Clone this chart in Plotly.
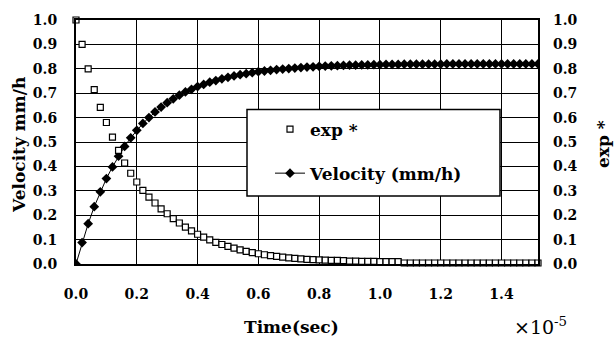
import plotly.graph_objects as go

# Time axis in units of 1e-5 sec
time_1e5 = [0.00, 0.02, 0.04, 0.06, 0.08, 0.10, 0.12, 0.14, 0.16, 0.18,
            0.20, 0.22, 0.24, 0.26, 0.28, 0.30, 0.32, 0.34, 0.36, 0.38,
            0.40, 0.42, 0.44, 0.46, 0.48, 0.50, 0.52, 0.54, 0.56, 0.58,
            0.60, 0.62, 0.64, 0.66, 0.68, 0.70, 0.72, 0.74, 0.76, 0.78,
            0.80, 0.82, 0.84, 0.86, 0.88, 0.90, 0.92, 0.94, 0.96, 0.98,
            1.00, 1.02, 1.04, 1.06, 1.08, 1.10, 1.12, 1.14, 1.16, 1.18,
            1.20, 1.22, 1.24, 1.26, 1.28, 1.30, 1.32, 1.34, 1.36, 1.38,
            1.40, 1.42, 1.44, 1.46, 1.48, 1.50, 1.52]

exp_star = [1.000, 0.900, 0.800, 0.715, 0.642, 0.580, 0.520, 0.466, 0.414, 0.372,
            0.336, 0.302, 0.274, 0.250, 0.226, 0.206, 0.186, 0.168, 0.151, 0.136,
            0.122, 0.110, 0.099, 0.089, 0.080, 0.072, 0.065, 0.058, 0.052, 0.047,
            0.042, 0.038, 0.034, 0.031, 0.028, 0.025, 0.023, 0.021, 0.019, 0.018,
            0.017, 0.016, 0.015, 0.015, 0.014, 0.012, 0.012, 0.011, 0.011, 0.011,
            0.010, 0.010, 0.010, 0.010, 0.004, 0.004, 0.004, 0.004, 0.004, 0.004,
            0.004, 0.004, 0.004, 0.004, 0.004, 0.004, 0.004, 0.004, 0.004, 0.004,
            0.004, 0.004, 0.004, 0.004, 0.004, 0.004, 0.004]

velocity = [0.000, 0.088, 0.165, 0.235, 0.296, 0.350, 0.398, 0.442, 0.482, 0.517,
            0.548, 0.576, 0.600, 0.623, 0.643, 0.661, 0.677, 0.692, 0.705, 0.716,
            0.727, 0.736, 0.745, 0.752, 0.759, 0.765, 0.771, 0.776, 0.780, 0.784,
            0.788, 0.791, 0.794, 0.797, 0.799, 0.801, 0.803, 0.805, 0.807, 0.808,
            0.810, 0.811, 0.812, 0.813, 0.814, 0.815, 0.815, 0.816, 0.816, 0.817,
            0.817, 0.818, 0.818, 0.818, 0.819, 0.819, 0.819, 0.819, 0.819, 0.819,
            0.819, 0.820, 0.820, 0.820, 0.820, 0.820, 0.820, 0.820, 0.820, 0.820,
            0.820, 0.820, 0.820, 0.820, 0.820, 0.820, 0.820]

x_ticks = [0.0, 0.2, 0.4, 0.6, 0.8, 1.0, 1.2, 1.4]
y_ticks = [0.0, 0.1, 0.2, 0.3, 0.4, 0.5, 0.6, 0.7, 0.8, 0.9, 1.0]

W, H = 616, 340
L, R, T, B = 76, 78, 16, 76
PW, PH = W - L - R, H - T - B


def px(x):
    return (x - L) / PW


def py(y):
    return (H - B - y) / PH


FONT = "DejaVu Serif"
tickfont = dict(family=FONT, size=14, color="black", weight="bold")
titlefont = dict(family=FONT, size=17, color="black", weight="bold")

fig = go.Figure()
fig.add_trace(go.Scatter(
    x=time_1e5, y=exp_star, name="exp *", mode="markers", yaxis="y2",
    legendgroup="exp", cliponaxis=False,
    marker=dict(symbol="square", size=6, color="white",
                line=dict(color="black", width=1.2)),
))
fig.add_trace(go.Scatter(
    x=time_1e5, y=velocity, name="Velocity (mm/h)", mode="lines+markers",
    legendgroup="vel",
    line=dict(color="black", width=1),
    marker=dict(symbol="diamond", size=7.5, color="black"),
))

axis_common = dict(
    showgrid=True, gridcolor="black", gridwidth=1.2,
    showline=True, linecolor="black", linewidth=2, mirror=True,
    ticks="", zeroline=False, tickfont=tickfont, tickformat=".1f",
)

fig.update_layout(
    width=W, height=H, autosize=False,
    margin=dict(l=L, r=R, t=T, b=B, pad=0),
    paper_bgcolor="white", plot_bgcolor="white",
    xaxis=dict(range=[0, 1.52], tickvals=x_ticks, ticklabelstandoff=16, **axis_common),
    yaxis=dict(range=[0, 1.0], tickvals=y_ticks, ticklabelstandoff=14, **axis_common),
    yaxis2=dict(range=[0, 1.0], tickvals=y_ticks, overlaying="y", side="right",
                showgrid=False, showline=False, ticks="", zeroline=False,
                tickfont=tickfont, tickformat=".1f", ticklabelstandoff=14),
    showlegend=True,
    legend=dict(x=px(270), y=py(109), xanchor="left", yanchor="top",
                bgcolor="rgba(0,0,0,0)", borderwidth=0,
                font=titlefont, traceorder="grouped", tracegroupgap=19),
    shapes=[dict(type="rect", xref="paper", yref="paper",
                 x0=px(247), x1=px(500), y0=py(195), y1=py(107),
                 fillcolor="white", line=dict(color="black", width=1.5),
                 layer="above")],
    annotations=[
        dict(text="Velocity mm/h", x=px(19), y=py(143), xref="paper", yref="paper",
             textangle=-90, showarrow=False, xanchor="center", yanchor="middle",
             font=titlefont),
        dict(text="exp *", x=px(603), y=py(142), xref="paper", yref="paper",
             textangle=-90, showarrow=False, xanchor="center", yanchor="middle",
             font=titlefont),
        dict(text="Time(sec)", x=px(291), y=py(328), xref="paper", yref="paper",
             showarrow=False, xanchor="center", yanchor="middle", font=titlefont),
        dict(text="×10<sup>-5</sup>", x=px(540), y=py(327), xref="paper", yref="paper",
             showarrow=False, xanchor="center", yanchor="middle",
             font=dict(family=FONT, size=19, color="black")),
    ],
)

fig.write_html("out.html")
